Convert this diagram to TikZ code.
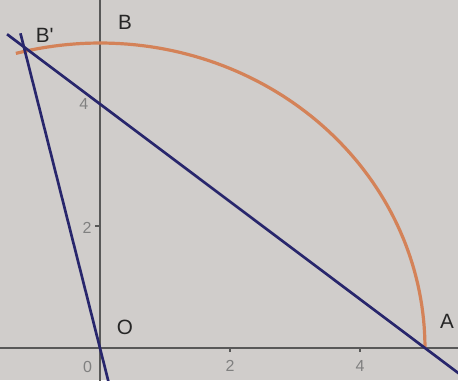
\documentclass[tikz,border=0pt]{standalone}
\usepackage{fontspec}
\setmainfont{Liberation Sans}
\newfontfamily\labelfont{Liberation Sans}
\usetikzlibrary{calc}
\definecolor{bggray}{RGB}{208,205,203}
\definecolor{arcorange}{RGB}{212,130,88}
\definecolor{raynavy}{RGB}{40,38,108}
\definecolor{axisgray}{RGB}{88,88,88}
\tikzset{
  ptlabel/.style={font=\labelfont\fontsize{15.5}{18}\selectfont, text=black!85, inner sep=0pt},
  ticklabel/.style={font=\fontsize{12}{14}\selectfont, text=black!50, inner sep=0pt},
  axisline/.style={axisgray, line width=1.1pt},
  rayline/.style={raynavy, line width=2pt},
}
\begin{document}
\begin{tikzpicture}[x=48.75pt, y=45.75pt]
    \fill[bggray] (-1.538,-0.525) rectangle (5.508,5.705);
    \useasboundingbox (-1.538,-0.525) rectangle (5.508,5.705); % size of the reference
    \clip (-1.538,-0.525) rectangle (5.508,5.705);
    \coordinate (O) at (0,0);
    \coordinate (A) at (5,0);
    \coordinate (B) at (0,5);
    \coordinate (C) at (0,4);
    \coordinate (Bp) at (-1.1707,4.9366);
    \coordinate (xl) at (-1.6,0);
    \coordinate (xr) at (5.6,0);
    \coordinate (yb) at (0,-0.6);
    \coordinate (yt) at (0,5.8);
    \draw[axisline] (xl) -- (xr);
    \draw[axisline] (yb) -- (yt);
    \foreach \t in {2,4} {
        \draw[axisgray, line width=0.8pt] (\t,0) -- (\t,-0.07);
        \node[ticklabel] (tx\t) at (\t,-0.29) {\t};
    }
    \draw[axisgray, line width=0.8pt] (0,2) -- (-0.08,2);
    \node[ticklabel] (ty2) at (-0.2,1.97) {2};
    \node[ticklabel] (ty4) at (-0.25,4.0) {4};
    \node[ticklabel] (t0) at (-0.19,-0.31) {0};
    \draw[arcorange, line width=2.4pt] plot[domain=0:105, samples=80] ({5*cos(\x)},{5*sin(\x)});
    \draw[rayline] ($(A)!1.042!(Bp)$) -- ($(Bp)!1.2!(A)$);
    \draw[rayline] ($(O)!1.045!(Bp)$) -- ($(Bp)!1.2!(O)$);
    \node[ptlabel] (lBp) at (-0.85,5.13) {B'};
    \node[ptlabel] (lB) at (0.385,5.34) {B};
    \node[ptlabel] (lO) at (0.385,0.33) {O};
    \node[ptlabel] (lA) at (5.34,0.43) {A};
\end{tikzpicture}
\end{document}
